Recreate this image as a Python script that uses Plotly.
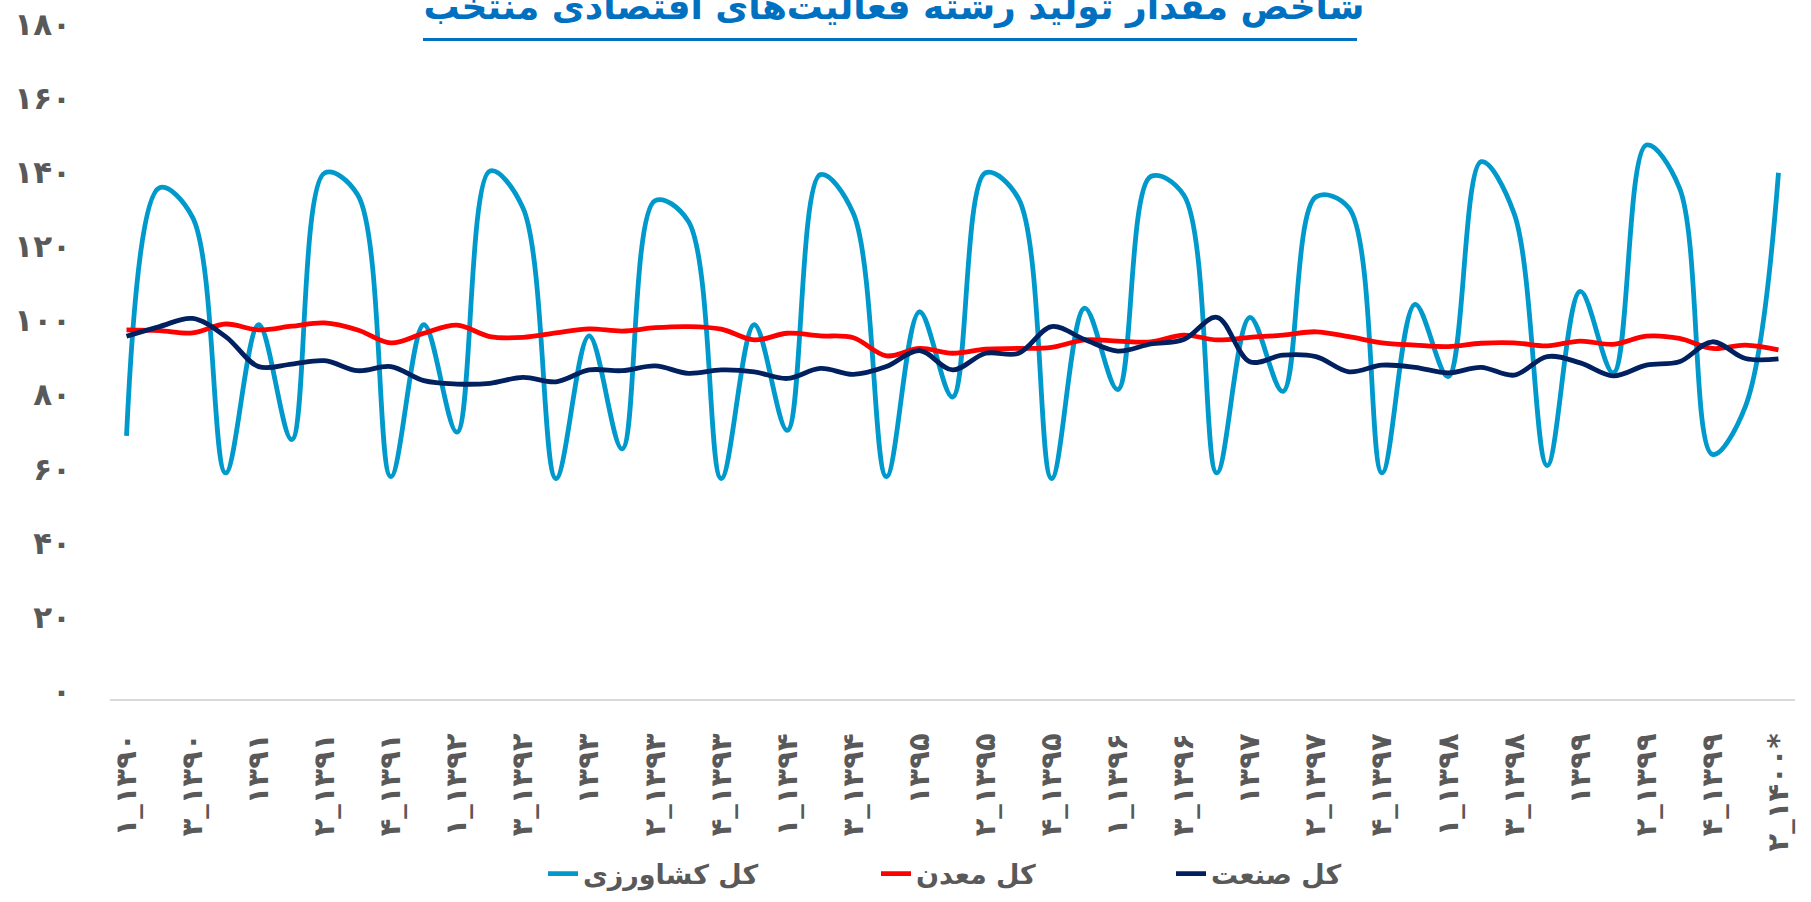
import plotly.graph_objects as go

# ---------------- data ----------------
categories = [
    "۱_۱۳۹۰", "۲_۱۳۹۰", "۳_۱۳۹۰", "۴_۱۳۹۰",
    "۱۳۹۱", "۱_۱۳۹۱", "۲_۱۳۹۱", "۳_۱۳۹۱", "۴_۱۳۹۱",
    "۱۳۹۲", "۱_۱۳۹۲", "۲_۱۳۹۲", "۳_۱۳۹۲", "۴_۱۳۹۲",
    "۱۳۹۳", "۱_۱۳۹۳", "۲_۱۳۹۳", "۳_۱۳۹۳", "۴_۱۳۹۳",
    "۱۳۹۴", "۱_۱۳۹۴", "۲_۱۳۹۴", "۳_۱۳۹۴", "۴_۱۳۹۴",
    "۱۳۹۵", "۱_۱۳۹۵", "۲_۱۳۹۵", "۳_۱۳۹۵", "۴_۱۳۹۵",
    "۱۳۹۶", "۱_۱۳۹۶", "۲_۱۳۹۶", "۳_۱۳۹۶", "۴_۱۳۹۶",
    "۱۳۹۷", "۱_۱۳۹۷", "۲_۱۳۹۷", "۳_۱۳۹۷", "۴_۱۳۹۷",
    "۱۳۹۸", "۱_۱۳۹۸", "۲_۱۳۹۸", "۳_۱۳۹۸", "۴_۱۳۹۸",
    "۱۳۹۹", "۱_۱۳۹۹", "۲_۱۳۹۹", "۳_۱۳۹۹", "۴_۱۳۹۹",
    "۱_۱۴۰۰", "۲_۱۴۰۰*",
]

agriculture = [71, 138, 130, 61, 101, 70, 142, 136, 60, 101,
               72, 142.5, 132.5, 59.5, 98, 67.5, 134.5, 129, 59.5, 101,
               72.5, 141.5, 131, 60, 104.5, 81.5, 142, 135, 59.5, 105.5,
               83.5, 141, 136, 61, 103, 83, 135.5, 132.5, 61, 106.5,
               87, 145, 131, 63, 110, 88, 149.5, 138, 66, 79, 142]

mining = [99.6, 99.4, 98.8, 101.2, 99.6, 100.6, 101.5, 99.6, 96.1, 98.7,
          100.9, 97.8, 97.6, 98.8, 99.9, 99.3, 100.2, 100.5, 99.8, 96.9,
          98.7, 98.0, 97.5, 92.6, 94.6, 93.3, 94.4, 94.6, 94.9, 96.9,
          96.6, 96.4, 98.2, 96.9, 97.6, 98.2, 99.1, 97.8, 96.1, 95.5,
          95.1, 96.0, 96.1, 95.3, 96.6, 95.7, 97.9, 97.3, 94.6, 95.5, 94.2]

industry = [97.9, 100.5, 102.7, 97.8, 89.7, 90.4, 91.3, 88.6, 89.7, 85.9,
            85.0, 85.2, 86.8, 85.6, 88.8, 88.6, 89.9, 87.9, 88.8, 88.3,
            86.5, 89.2, 87.6, 89.7, 94.0, 88.8, 93.3, 93.3, 100.5, 97.0,
            93.9, 95.8, 97.0, 103.0, 91.0, 92.8, 92.4, 88.3, 90.1, 89.5,
            88.0, 89.5, 87.4, 92.4, 90.7, 87.2, 90.1, 91.0, 96.4, 91.9, 91.8]

series_names = ["کل کشاورزی", "کل معدن", "کل صنعت"]
y_tick_values = [0, 20, 40, 60, 80, 100, 120, 140, 160, 180]
y_tick_labels = ["۰", "۲۰", "۴۰", "۶۰", "۸۰", "۱۰۰", "۱۲۰", "۱۴۰", "۱۶۰", "۱۸۰"]
x_tick_values = categories[::2]
title_text = "شاخص مقدار تولید رشته فعالیت\u200cهای اقتصادی منتخب"

# ---------------- style ----------------
W, H = 1811, 902
L, R, T, B = 110, 16, 32, 203
FONT = "DejaVu Sans"
GRAY = "#595959"
colors = ["#0099CC", "#FF0000", "#002060"]

fig = go.Figure()
for i, (name, vals) in enumerate(zip(series_names, [agriculture, mining, industry])):
    fig.add_trace(go.Scatter(
        x=categories, y=vals, name=name, mode="lines",
        line=dict(color=colors[i], width=4.8, shape="spline", smoothing=1.0),
        legend="legend" if i == 0 else f"legend{i+1}",
        showlegend=True,
    ))

pw = W - L - R
ph = H - T - B

def px_x(x):
    return (x - L) / pw

def px_y(y):
    return (H - B - y) / ph

legend_common = dict(orientation="h", yanchor="middle", xanchor="left",
                     xref="container", yref="container",
                     y=1 - 874 / H, bgcolor="rgba(0,0,0,0)",
                     font=dict(family=FONT, size=27, color=GRAY, weight="bold"))

fig.update_layout(
    width=W, height=H,
    margin=dict(l=L, r=R, t=T, b=B),
    paper_bgcolor="white", plot_bgcolor="white",
    showlegend=True,
    title=dict(text=title_text, x=894 / W, xanchor="center",
               y=1 - 19 / H, yanchor="bottom", yref="container",
               font=dict(family=FONT, size=36, color="#0070C0", weight="bold")),
    legend=dict(x=543 / W, **legend_common),
    legend2=dict(x=876 / W, **legend_common),
    legend3=dict(x=1171 / W, **legend_common),
    xaxis=dict(type="category", categoryorder="array", categoryarray=categories,
               range=[-0.5, len(categories) - 0.5], automargin=False,
               tickmode="array", tickvals=x_tick_values, ticktext=x_tick_values,
               tickangle=-90, showgrid=False, zeroline=False,
               showline=True, linecolor="#D9D9D9", linewidth=1.5,
               ticks="", ticklabelstandoff=21,
               tickfont=dict(family=FONT, size=29, color=GRAY, weight="bold")),
    yaxis=dict(range=[0, 180], tickmode="array", tickvals=y_tick_values,
               ticktext=y_tick_labels, showgrid=False, zeroline=False,
               showline=False, ticks="", ticklabelstandoff=38,
               ticklabelshift=-8, automargin=False,
               tickfont=dict(family=FONT, size=31, color=GRAY, weight="bold")),
    shapes=[dict(type="line", xref="paper", yref="paper",
                 x0=px_x(423), x1=px_x(1357), y0=px_y(39.5), y1=px_y(39.5),
                 line=dict(color="#0070C0", width=3))],
)

fig.write_html("out.html", config={"displayModeBar": False},
               post_script="document.body.style.margin='0';document.body.style.overflow='hidden';")
